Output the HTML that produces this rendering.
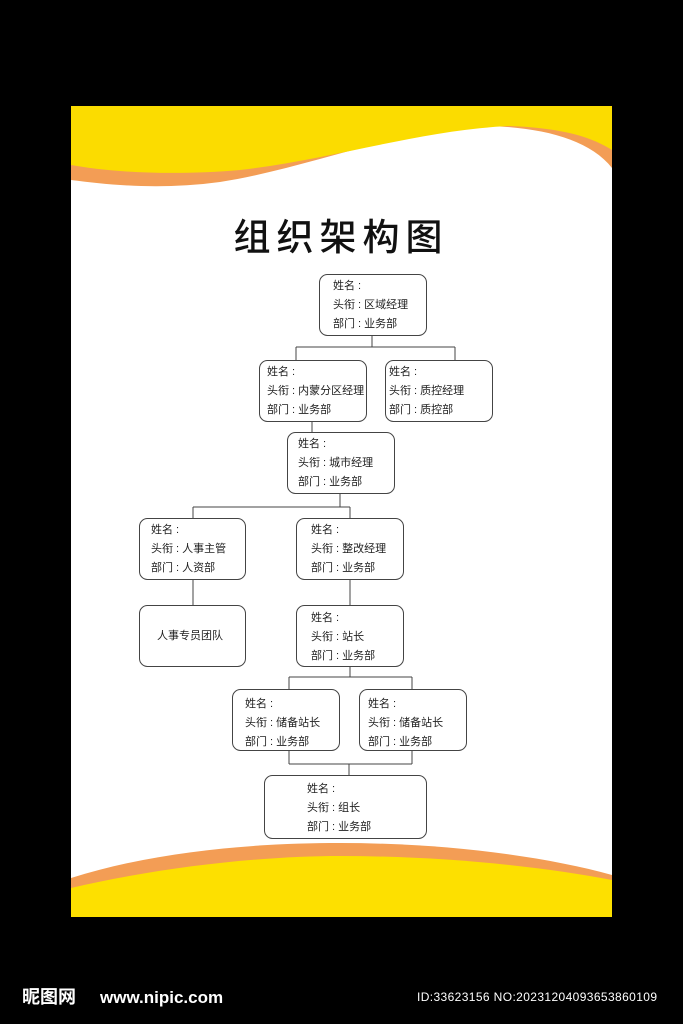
<!DOCTYPE html>
<html><head><meta charset="utf-8"><style>
html,body{margin:0;padding:0;background:#000;width:683px;height:1024px;overflow:hidden}
svg{display:block}
.t{font-family:"Liberation Sans","Noto Sans CJK SC",sans-serif;font-size:11px;fill:#222}
</style></head><body>
<svg width="683" height="1024" viewBox="0 0 683 1024" xmlns="http://www.w3.org/2000/svg">
<rect x="0" y="0" width="683" height="1024" fill="#000"/>
<rect x="71" y="106" width="541" height="811" fill="#fff"/>
<path d="M71 106 H612 V168 C590 140 545 128 490 126 C400 128 310 168 220 182 C160 190 110 185 71 180 Z" fill="#f39d55"/>
<path d="M71 106 H612 V150 C590 136 560 128 510 126 C420 130 330 160 240 170 C170 176 110 172 71 165 Z" fill="#fbdc00"/>
<path d="M71 878 C160 850 260 843 340 843 C440 843 540 855 612 875 V917 H71 Z" fill="#f39d55"/>
<path d="M71 888 C170 865 270 856 340 856 C440 856 540 866 612 880 V917 H71 Z" fill="#fde000"/>
<text x="341" y="250" text-anchor="middle" style="font-family:'Noto Sans CJK SC',sans-serif;font-size:37px;font-weight:500;letter-spacing:6px" fill="#111">组织架构图</text>
<g stroke="#444" stroke-width="1" fill="none">
<path d="M372 335V347M296 347H455M296 347V360M455 347V360"/>
<path d="M312 421V432"/>
<path d="M340 493V507M193 507H350M193 507V518M350 507V518"/>
<path d="M193 579V605M350 579V605"/>
<path d="M350 666V677M289 677H412M289 677V689M412 677V689"/>
<path d="M289 750V764M412 750V764M289 764H412M349 764V775"/>
<rect x="319.5" y="274.5" width="107" height="61" rx="8"/>
<rect x="259.5" y="360.5" width="107" height="61" rx="8"/>
<rect x="385.5" y="360.5" width="107" height="61" rx="8"/>
<rect x="287.5" y="432.5" width="107" height="61" rx="8"/>
<rect x="139.5" y="518.5" width="106" height="61" rx="8"/>
<rect x="296.5" y="518.5" width="107" height="61" rx="8"/>
<rect x="139.5" y="605.5" width="106" height="61" rx="8"/>
<rect x="296.5" y="605.5" width="107" height="61" rx="8"/>
<rect x="232.5" y="689.5" width="107" height="61" rx="8"/>
<rect x="359.5" y="689.5" width="107" height="61" rx="8"/>
<rect x="264.5" y="775.5" width="162" height="63" rx="8"/>
</g>
<g class="t">
<text x="333" y="289">姓名 :</text><text x="333" y="308">头衔 : 区域经理</text><text x="333" y="327">部门 : 业务部</text>
<text x="267" y="375">姓名 :</text><text x="267" y="394">头衔 : 内蒙分区经理</text><text x="267" y="413">部门 : 业务部</text>
<text x="389" y="375">姓名 :</text><text x="389" y="394">头衔 : 质控经理</text><text x="389" y="413">部门 : 质控部</text>
<text x="298" y="447">姓名 :</text><text x="298" y="466">头衔 : 城市经理</text><text x="298" y="485">部门 : 业务部</text>
<text x="151" y="533">姓名 :</text><text x="151" y="552">头衔 : 人事主管</text><text x="151" y="571">部门 : 人资部</text>
<text x="311" y="533">姓名 :</text><text x="311" y="552">头衔 : 整改经理</text><text x="311" y="571">部门 : 业务部</text>
<text x="157" y="639">人事专员团队</text>
<text x="311" y="621">姓名 :</text><text x="311" y="640">头衔 : 站长</text><text x="311" y="659">部门 : 业务部</text>
<text x="245" y="707">姓名 :</text><text x="245" y="726">头衔 : 储备站长</text><text x="245" y="745">部门 : 业务部</text>
<text x="368" y="707">姓名 :</text><text x="368" y="726">头衔 : 储备站长</text><text x="368" y="745">部门 : 业务部</text>
<text x="307" y="792">姓名 :</text><text x="307" y="811">头衔 : 组长</text><text x="307" y="830">部门 : 业务部</text>
</g>
<text x="22" y="1003" style="font-family:'Noto Sans CJK SC',sans-serif;font-size:18px;font-weight:bold" fill="#fff">昵图网</text>
<text x="100" y="1003" style="font-family:'Liberation Sans',sans-serif;font-size:17px;font-weight:bold" fill="#fff">www.nipic.com</text>
<text x="417" y="1001" textLength="240" style="font-family:'Liberation Sans',sans-serif;font-size:12px" fill="#fff">ID:33623156 NO:20231204093653860109</text>
</svg>
</body></html>
